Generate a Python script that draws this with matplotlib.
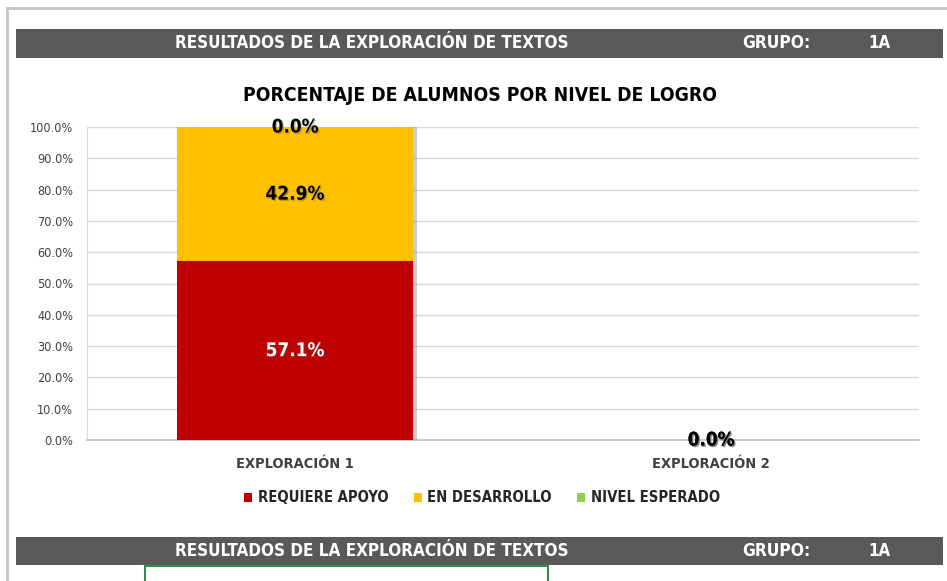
import matplotlib
matplotlib.use("Agg")
import matplotlib.pyplot as plt
from matplotlib.patches import Rectangle, Patch
import matplotlib.patheffects as pe
from matplotlib import font_manager

# ---------------- data ----------------
categories = ["EXPLORACIÓN 1", "EXPLORACIÓN 2"]
series_names = ["REQUIERE APOYO", "EN DESARROLLO", "NIVEL ESPERADO"]
requiere_apoyo = [57.1, 0.0]
en_desarrollo = [42.9, 0.0]
nivel_esperado = [0.0, 0.0]
series_values = [requiere_apoyo, en_desarrollo, nivel_esperado]
series_colors = ["#C00000", "#FFC000", "#92D050"]
label_colors = ["white", "black", "black"]
yticks = [0, 10, 20, 30, 40, 50, 60, 70, 80, 90, 100]
header_text = "RESULTADOS DE LA EXPLORACIÓN DE TEXTOS"
group_label = "GRUPO:"
group_value = "1A"
chart_title = "PORCENTAJE DE ALUMNOS POR NIVEL DE LOGRO"

# ---------------- fonts ----------------
ttf = font_manager.fontManager.ttflist
names = {f.name for f in ttf}
STRETCH = "normal"
if "Liberation Sans Narrow" in names:
    FAM = ["Liberation Sans Narrow", "DejaVu Sans"]
elif any(f.name == "DejaVu Sans" and str(f.stretch) in ("condensed", "semi-condensed", "75", "87.5")
         for f in ttf):
    FAM = ["DejaVu Sans"]
    STRETCH = "condensed"
elif "Lato" in names:
    FAM = ["Lato", "DejaVu Sans"]
else:
    FAM = ["DejaVu Sans"]
plt.rcParams["font.family"] = FAM
plt.rcParams["font.stretch"] = STRETCH

W, H = 947, 581
fig = plt.figure(figsize=(W / 100, H / 100), dpi=100)
fig.patch.set_facecolor("white")
renderer = fig.canvas.get_renderer()


def fx(x):
    return x / W


def fy(y):
    return 1 - y / H


def fit(t, width_px):
    bb = t.get_window_extent(renderer)
    if bb.width > 0:
        t.set_fontsize(t.get_fontsize() * width_px / bb.width)
    return t.get_fontsize()


# outer frame lines
fig.add_artist(plt.Line2D([fx(7), fx(947)], [fy(8), fy(8)], color="#c4c4c4", lw=2))
fig.add_artist(plt.Line2D([fx(7), fx(7)], [fy(8), fy(581)], color="#c4c4c4", lw=2))


def header(ytop, ybot):
    fig.add_artist(Rectangle((fx(16), fy(ybot)), fx(943) - fx(16), fy(ytop) - fy(ybot),
                             transform=fig.transFigure, facecolor="#595959",
                             edgecolor="none"))
    yc = fy((ytop + ybot) / 2)
    t1 = fig.text(fx(372), yc, header_text, color="white", fontweight="bold",
                  ha="center", va="center", fontsize=13)
    fit(t1, 392)
    t2 = fig.text(fx(776), yc, group_label, color="white", fontweight="bold",
                  ha="center", va="center", fontsize=13)
    fit(t2, 68)
    t3 = fig.text(fx(879), yc, group_value, color="white", fontweight="bold",
                  ha="center", va="center", fontsize=13)
    fit(t3, 22)


header(29, 58)
header(537, 565)

# green box at bottom
fig.add_artist(Rectangle((fx(145), fy(590)), fx(548) - fx(145), fy(566) - fy(590),
                         transform=fig.transFigure, facecolor="none",
                         edgecolor="#3a8a4a", lw=1.5))

# chart title
tt = fig.text(fx(480), fy(95), chart_title, color="black", fontweight="bold",
              ha="center", va="center", fontsize=14)
fit(tt, 474)

# ---------------- axes ----------------
ax = fig.add_axes([fx(87), fy(440), fx(919) - fx(87), fy(127) - fy(440)])
ax.set_facecolor("white")
x = list(range(len(categories)))
bw = 0.566
bottom = [0.0] * len(categories)
for vals, col in zip(series_values, series_colors):
    bars = ax.bar(x, vals, bw, bottom=bottom, color=col, zorder=3, edgecolor="none")
    for b in bars:
        b.set_path_effects([pe.SimplePatchShadow(offset=(3, 0), shadow_rgbFace="#808080",
                                                 alpha=0.4), pe.Normal()])
    bottom = [b0 + v for b0, v in zip(bottom, vals)]

# data labels
label_fx = [pe.SimplePatchShadow(offset=(1, -1), shadow_rgbFace="#555555", alpha=0.35),
            pe.Normal()]
bottom = [0.0] * len(categories)
for vals, lc in zip(series_values, label_colors):
    for i, v in enumerate(vals):
        yc = bottom[i] + v / 2
        t = ax.text(x[i], yc, f"{v:.1f}%", ha="center", va="center", color=lc,
                    fontweight="bold", fontsize=14, zorder=5)
        if v > 0:
            fit(t, 59)
        else:
            fit(t, 47)
        t.set_path_effects(label_fx)
    bottom = [b0 + v for b0, v in zip(bottom, vals)]

ax.set_xlim(-0.5, len(categories) - 0.5)
ax.set_ylim(0, 100)
ax.set_yticks(yticks)
ax.set_yticklabels([f"{v:.1f}%" for v in yticks])
ax.set_xticks(x)
ax.set_xticklabels(categories, fontweight="bold")
ax.tick_params(axis="y", length=0, pad=10, labelsize=9.5, labelcolor="#404040")
ax.tick_params(axis="x", length=0, pad=12, labelsize=11, labelcolor="#404040")
ylabs = ax.get_yticklabels()
fs = fit(ylabs[-1], 43)
for lab in ylabs:
    lab.set_fontsize(fs)
for lab in ax.get_xticklabels():
    fit(lab, 117)
ax.grid(axis="y", color="#d9d9d9", lw=1, zorder=0)
for s in ["top", "right"]:
    ax.spines[s].set_visible(False)
ax.spines["left"].set_color("#d9d9d9")
ax.spines["bottom"].set_color("#bfbfbf")
ax.spines["bottom"].set_linewidth(1.2)

# legend
probe = fig.text(0, 0, series_names[0], fontweight="bold", fontsize=11)
lfs = fit(probe, 129)
probe.remove()
handles = [Patch(facecolor=c, edgecolor="none") for c in series_colors]
leg = fig.legend(handles, series_names, loc="center", bbox_to_anchor=(fx(482), fy(498)),
                 ncol=3, frameon=False, handlelength=0.55, handleheight=0.6,
                 handletextpad=0.35, columnspacing=1.75,
                 prop={"family": FAM, "weight": "bold", "size": lfs, "stretch": STRETCH})
for t in leg.get_texts():
    t.set_color("#262626")

fig.savefig("out.png", dpi=100, facecolor="white")
